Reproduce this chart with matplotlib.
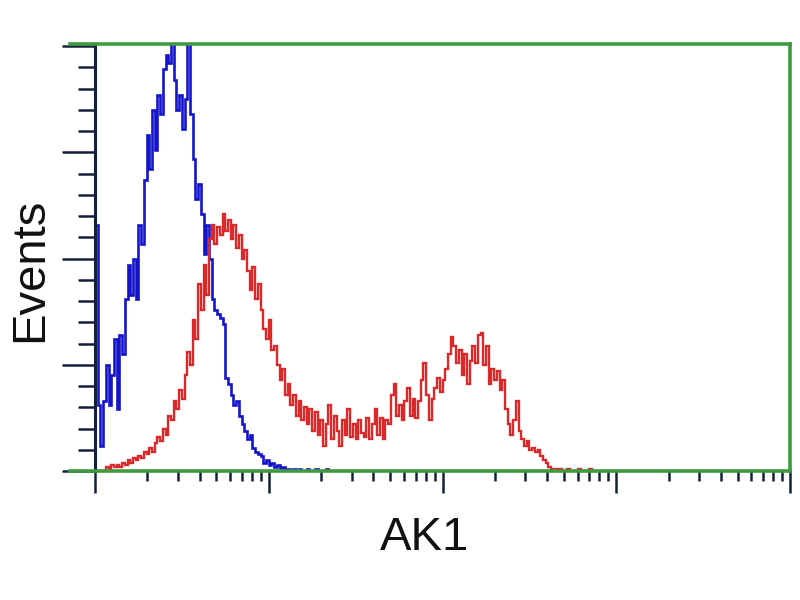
"""Flow cytometry overlay: AK1 staining (red) vs. isotype control (blue)."""
import numpy as np
import matplotlib
matplotlib.use("Agg")
import matplotlib.pyplot as plt
from matplotlib.ticker import MultipleLocator

# 256 channels spread over 4 log decades
N_CHANNELS = 256
DECADES = 4

# events per channel (channel 0 upward)
blue_counts = [
    116, 31, 12, 33, 50, 31, 45, 62, 29, 64,
    55, 81, 97, 83, 100, 81, 116, 107, 137, 158,
    142, 170, 151, 177, 168, 189, 196, 192, 210, 184,
    170, 177, 161, 175, 215, 168, 147, 128, 135, 121,
    102, 116, 100, 81, 76, 74, 72, 69, 44, 41,
    36, 31, 33, 26, 22, 19, 15, 17, 11, 9,
    8, 7, 4, 5, 3, 4, 2, 3, 1, 2,
    1, 1, 0, 1, 0, 1, 0, 0, 1, 0,
    0, 1, 0, 0, 0, 1, 0, 0, 0, 0,
]
red_counts = [
    0, 0, 0, 0, 2, 1, 3, 2, 3, 2,
    4, 3, 5, 4, 6, 5, 7, 6, 9, 8,
    11, 9, 13, 16, 14, 20, 17, 26, 24, 33,
    29, 38, 34, 45, 56, 50, 71, 62, 88, 76,
    97, 83, 109, 116, 107, 115, 111, 121, 113, 118,
    109, 116, 105, 111, 100, 104, 94, 85, 96, 81,
    88, 76, 67, 62, 71, 57, 59, 50, 43, 48,
    36, 41, 31, 36, 26, 33, 24, 30, 22, 29,
    19, 28, 17, 24, 12, 22, 31, 15, 26, 19,
    12, 24, 17, 29, 16, 22, 15, 24, 18, 16,
    25, 15, 22, 29, 17, 25, 15, 24, 22, 36,
    41, 26, 31, 24, 33, 39, 26, 34, 25, 33,
    43, 51, 36, 24, 34, 39, 44, 37, 43, 48,
    55, 63, 59, 51, 57, 45, 55, 41, 52, 59,
    51, 64, 65, 50, 59, 41, 48, 43, 47, 38,
    43, 29, 22, 17, 24, 33, 19, 15, 12, 14,
    10, 11, 9, 10, 7, 5, 4, 2, 1, 1,
    0, 1, 0, 0, 1, 0, 0, 0, 1, 0,
    0, 0, 1, 0, 0, 0,
]

GREEN = "#3f9a3f"
AXIS_DARK = "#14203a"
BLUE = "#1414cc"
RED = "#dc2828"


def channel_edges(n):
    return 10 ** (np.arange(n + 1) * DECADES / N_CHANNELS)


fig = plt.figure(figsize=(8, 6), dpi=100)
ax = fig.add_axes([70 / 800, 129 / 600, 720 / 800, 427 / 600])

ax.stairs(blue_counts, channel_edges(len(blue_counts)), color=BLUE, lw=1.9)
ax.stairs(red_counts, channel_edges(len(red_counts)), color=RED, lw=1.7)

ax.set_xscale("log")
ax.set_xlim(10 ** (-25 / 173.75), 10 ** DECADES)
ax.set_ylim(0, 201)

for side in ("top", "right", "bottom"):
    ax.spines[side].set_color(GREEN)
    ax.spines[side].set_linewidth(2.6)
ax.spines["left"].set_position(("data", 1.0))
ax.spines["left"].set_color(AXIS_DARK)
ax.spines["left"].set_linewidth(2.2)
ax.spines["left"].set_zorder(1)

ax.yaxis.set_major_locator(MultipleLocator(50))
ax.yaxis.set_minor_locator(MultipleLocator(10))
decades = 10.0 ** np.arange(DECADES + 1)
ax.set_xticks(decades)
ax.set_xticks([d * k for d in decades[:-1] for k in range(2, 10)], minor=True)
ax.set_xticklabels([])
ax.set_xticklabels([], minor=True)
ax.set_yticklabels([])

ax.tick_params(axis="y", which="major", direction="out", length=24, width=1.8, color=AXIS_DARK)
ax.tick_params(axis="y", which="minor", direction="out", length=12, width=1.8, color=AXIS_DARK)
ax.tick_params(axis="x", which="major", direction="out", length=16, width=1.8, color=AXIS_DARK)
ax.tick_params(axis="x", which="minor", direction="out", length=7, width=1.8, color=AXIS_DARK)

fig.text(30 / 800, 1 - 270 / 600, "Events", rotation=90, ha="center", va="center",
         fontsize=34, family=["Liberation Sans", "DejaVu Sans"], color="#111111")
fig.text(425 / 800, 1 - 538 / 600, "AK1", ha="center", va="center",
         fontsize=34, family=["Liberation Sans", "DejaVu Sans"], color="#111111")

fig.savefig("out.png", dpi=100)
